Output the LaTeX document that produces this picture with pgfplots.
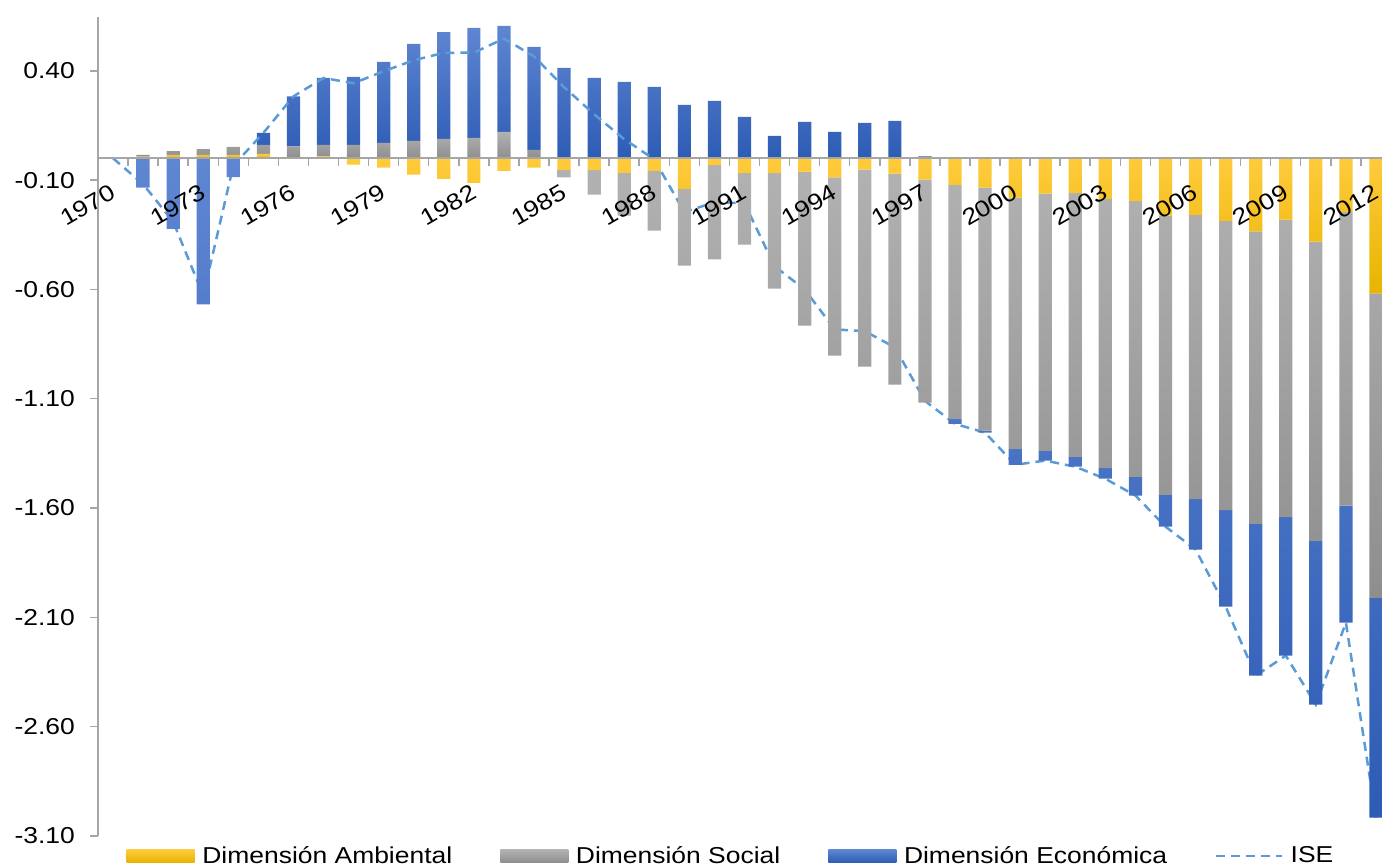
\documentclass[border=0pt]{standalone}
\usepackage{fontspec}
\setmainfont{Liberation Sans}[FakeStretch=1.15]
\usepackage{pgfplots}
\usepackage{pgfplotstable}
\pgfplotsset{compat=1.18}
\definecolor{ylTop}{HTML}{FFCB3C}
\definecolor{ylBot}{HTML}{E8B400}
\definecolor{grTop}{HTML}{B2B2B2}
\definecolor{grBot}{HTML}{8E8E8E}
\definecolor{blTop}{HTML}{5F86D1}
\definecolor{blBot}{HTML}{2D5CB5}
\definecolor{iseC}{HTML}{5B9BD5}
\definecolor{axC}{HTML}{A6A6A6}
\newcommand\chartfont{\fontsize{11.5}{13.8}\selectfont}

\pgfplotstableread{
year A S E ISE
1970 0 0 0 0
1971 0.007 0.008 -0.134 -0.119
1972 0.015 0.018 -0.323 -0.290
1973 0.015 0.027 -0.669 -0.627
1974 0.015 0.037 -0.086 -0.034
1975 0.020 0.041 0.055 0.116
1976 0.002 0.052 0.229 0.283
1977 0.008 0.053 0.306 0.367
1978 -0.029 0.061 0.311 0.343
1979 -0.043 0.070 0.371 0.398
1980 -0.075 0.079 0.444 0.448
1981 -0.095 0.088 0.489 0.482
1982 -0.113 0.093 0.503 0.483
1983 -0.058 0.120 0.485 0.547
1984 -0.043 0.038 0.471 0.466
1985 -0.053 -0.035 0.413 0.325
1986 -0.053 -0.113 0.367 0.201
1987 -0.067 -0.195 0.349 0.087
1988 -0.058 -0.273 0.326 -0.005
1989 -0.140 -0.351 0.244 -0.247
1990 -0.030 -0.433 0.262 -0.201
1991 -0.067 -0.328 0.189 -0.206
1992 -0.067 -0.529 0.102 -0.494
1993 -0.061 -0.705 0.166 -0.600
1994 -0.088 -0.815 0.120 -0.783
1995 -0.052 -0.901 0.162 -0.791
1996 -0.070 -0.966 0.171 -0.865
1997 -0.098 -1.020 0.008 -1.110
1998 -0.122 -1.071 -0.022 -1.215
1999 -0.134 -1.112 -0.009 -1.255
2000 -0.180 -1.150 -0.072 -1.402
2001 -0.162 -1.177 -0.044 -1.383
2002 -0.159 -1.207 -0.045 -1.411
2003 -0.186 -1.231 -0.049 -1.466
2004 -0.195 -1.263 -0.085 -1.543
2005 -0.262 -1.278 -0.145 -1.685
2006 -0.259 -1.300 -0.231 -1.790
2007 -0.287 -1.322 -0.442 -2.051
2008 -0.335 -1.337 -0.695 -2.367
2009 -0.281 -1.360 -0.634 -2.275
2010 -0.381 -1.370 -0.748 -2.499
2011 -0.245 -1.344 -0.535 -2.124
2012 -0.618 -1.393 -1.005 -3.016
}\datatable

\pgfplotsset{
  base/.style={scale only axis, width=642pt, height=409.5pt,
    xmin=1969.5, xmax=2012.2, ymin=-3.1, ymax=0.646,
    ybar stacked, bar width=0.44, anchor=south west, at={(0pt,0pt)}},
  ambi/.style={draw=none, top color=ylTop, bottom color=ylBot},
  soci/.style={draw=none, top color=grTop, bottom color=grBot},
  econ/.style={draw=none, top color=blTop, bottom color=blBot},
  swatch/.style={legend image code/.code={\fill[##1] (0pt,-3.2pt) rectangle (34pt,3.2pt);}},
  iseleg/.style={legend image code/.code={\draw[##1] (0pt,0pt) -- (27.5pt,0pt); \path (0pt,0pt) -- (32.65pt,0pt);}},
}

\begin{document}
\begin{tikzpicture}
% positive parts
\begin{axis}[base, hide axis]
\addplot[ambi] table[x=year, y expr={max(\thisrow{A},0)}] {\datatable};
\addplot[soci] table[x=year, y expr={max(\thisrow{S},0)}] {\datatable};
\addplot[econ] table[x=year, y expr={max(\thisrow{E},0)}] {\datatable};
\end{axis}
% negative parts, line and axes
\begin{axis}[base,
  axis x line*=middle, axis y line*=left,
  axis line style={axC, line width=0.75pt},
  axis on top,
  tick align=outside,
  major tick length=3.8pt, minor tick length=3.8pt,
  xtick={1970,1973,1976,1979,1982,1985,1988,1991,1994,1997,2000,2003,2006,2009,2012},
  xticklabels={1970,1973,1976,1979,1982,1985,1988,1991,1994,1997,2000,2003,2006,2009,2012},
  minor xtick={1970.5,1971.5,...,2011.5},
  major x tick style={draw=none},
  minor x tick style={axC, line width=0.75pt},
  major y tick style={axC, line width=0.75pt},
  ytick={-3.1,-2.6,-2.1,-1.6,-1.1,-0.6,-0.1,0.4},
  /pgf/number format/assume math mode=true,
  yticklabel style={font=\chartfont, anchor=east, inner sep=0pt, xshift=-7.6pt,
    /pgf/number format/.cd, fixed, fixed zerofill, precision=2},
  xticklabel style={font=\chartfont, rotate=30, anchor=north east, inner sep=0pt,
    xshift=-6pt, yshift=-6.5pt},
  legend columns=4,
  legend cell align=left,
  legend style={draw=none, fill=none, at={(0.4922,-0.0245)}, anchor=center,
    font=\chartfont, inner sep=0pt, nodes={inner sep=0pt},
    /tikz/every odd column/.append style={column sep=3.85pt},
    /tikz/every even column/.append style={column sep=24pt}},
]
\addplot[ambi, swatch] table[x=year, y expr={min(\thisrow{A},0)}] {\datatable};
\addlegendentry{Dimensión Ambiental}
\addplot[soci, swatch] table[x=year, y expr={min(\thisrow{S},0)}] {\datatable};
\addlegendentry{Dimensión Social}
\addplot[econ, swatch] table[x=year, y expr={min(\thisrow{E},0)}] {\datatable};
\addlegendentry{Dimensión Económica}
\addplot[iseC, line width=1.25pt, dash pattern=on 4.5pt off 3pt, sharp plot,
  stack plots=false, mark=none, iseleg]
  table[x=year, y=ISE] {\datatable};
\addlegendentry{ISE}
\end{axis}
\pgfresetboundingbox
\path[use as bounding box] (-49pt,-15.5pt) rectangle (642pt,418pt);
\end{tikzpicture}
\end{document}
